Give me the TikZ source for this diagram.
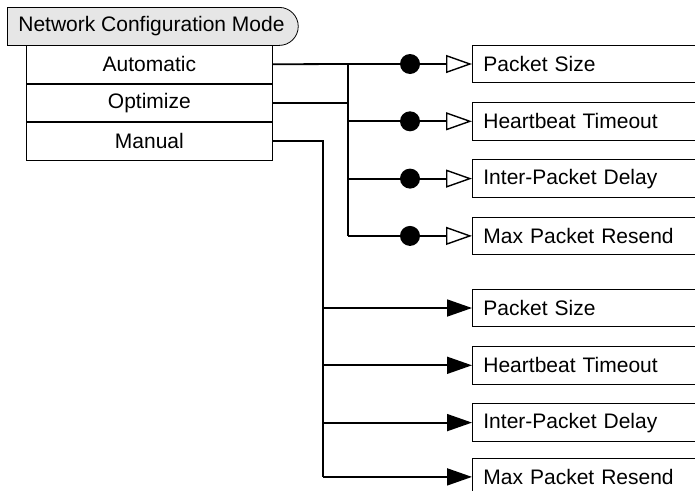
\documentclass[tikz,border=0pt]{standalone}
\usepackage{fontspec}
\setmainfont{Liberation Sans}
\usetikzlibrary{positioning,arrows.meta,shapes.misc}
\definecolor{ModeGray}{RGB}{230,230,230}

\begin{document}
\begin{tikzpicture}[x=1pt, y=-1pt, every node/.style={font=\fontsize{21}{25}\selectfont},
    menubox/.style={draw, line width=0.8pt, minimum width=246pt, minimum height=37.7pt, inner sep=0pt},
    itembox/.style={draw, line width=0.8pt, minimum width=240pt, minimum height=37.5pt,
                    inner xsep=11pt, text width=218pt, align=left},
    conn/.style={line width=1.8pt},
    dot/.style={circle, fill, inner sep=0pt, minimum size=20pt}]
  \useasboundingbox (0,0) rectangle (695,490);

  % mode header and its menu
  \node[draw, line width=0.8pt, fill=ModeGray, rounded rectangle, rounded rectangle west arc=none,
        minimum height=38pt, inner xsep=11pt, anchor=north west]
        (mode) at (7,7) {Network Configuration Mode};
  \node[menubox, anchor=north west] (auto) at (26,45) {Automatic};
  \node[menubox, below=0pt of auto] (optimize) {Optimize};
  \node[menubox, below=0pt of optimize] (manual) {Manual};

  % parameters for automatic / optimize
  \node[itembox, anchor=west] (psA) at (472,64) {Packet Size};
  \node[itembox, below=19pt of psA] (hbA) {Heartbeat Timeout};
  \node[itembox, below=19pt of hbA] (ipdA) {Inter-Packet Delay};
  \node[itembox, below=19pt of ipdA] (mprA) {Max Packet Resend};

  % parameters for manual
  \node[itembox, anchor=west] (psB) at (472,308) {Packet Size};
  \node[itembox, below=19pt of psB] (hbB) {Heartbeat Timeout};
  \node[itembox, below=19pt of hbB] (ipdB) {Inter-Packet Delay};
  \node[itembox, below=16pt of ipdB] (mprB) {Max Packet Resend};

  \coordinate (busA) at (348,0);
  \coordinate (busB) at (323,0);

  \draw[conn] (auto.east) -- (busA |- psA.west);
  \draw[conn] (optimize.east) -- (busA |- optimize.east);
  \draw[conn] (busA |- psA.west) -- (busA |- mprA.west);
  \foreach \n in {psA,hbA,ipdA,mprA}
    \draw[conn, -{Triangle[open, length=26pt, width=18pt, line width=1.4pt]}]
      (busA |- \n.west) -- (\n.west) node[dot, pos=0.5] {};

  \draw[conn] (manual.east) -- (busB |- manual.east) -- (busB |- mprB.west);
  \foreach \n in {psB,hbB,ipdB,mprB}
    \draw[conn, -{Triangle[length=25pt, width=17pt]}] (busB |- \n.west) -- (\n.west);
\end{tikzpicture}
\end{document}
